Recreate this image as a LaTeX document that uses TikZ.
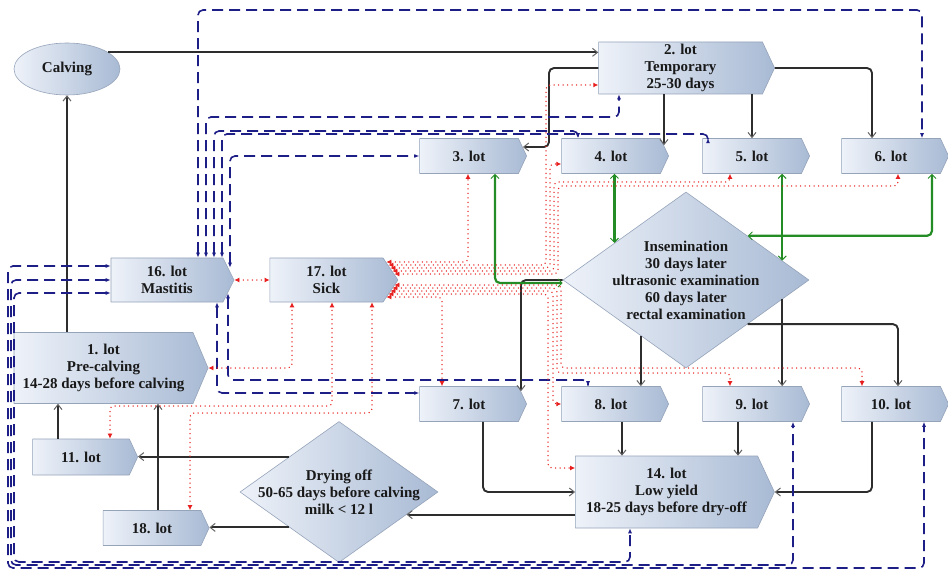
\documentclass[tikz,border=0pt]{standalone}
\usepackage{fontspec}
\setmainfont{Liberation Serif}
\usetikzlibrary{shapes.symbols,shapes.geometric,arrows.meta,calc}
\definecolor{lotlight}{RGB}{238,242,249}
\definecolor{lotdark}{RGB}{168,186,212}
\definecolor{lotedge}{RGB}{150,164,186}
\definecolor{navyline}{RGB}{30,30,135}
\definecolor{sickred}{RGB}{232,30,30}
\definecolor{insemgreen}{RGB}{36,140,36}
\definecolor{flowgray}{RGB}{45,45,45}
\definecolor{tipgray}{RGB}{100,100,100}
\begin{document}
\begin{tikzpicture}[x=1pt,y=-1pt,line join=round,
  font=\bfseries\fontsize{15}{17}\selectfont,
  shadebox/.style={draw=lotedge,line width=0.6pt,left color=lotlight,right color=lotdark,text=black!90,align=center,inner sep=0pt},
  lotbox/.style={shadebox,signal,signal to=east,signal from=nowhere,signal pointer angle=130,minimum width=107pt,minimum height=35pt},
  calvbox/.style={shadebox,ellipse,minimum width=106pt,minimum height=52pt},
  decide/.style={shadebox,diamond},
  flow/.style={draw=flowgray,line width=1.9pt,rounded corners=5pt,-{Straight Barb[length=5pt,width=8pt,line width=1pt,color=tipgray]}},
  insemline/.style={draw=insemgreen,line width=2.2pt,rounded corners=5pt,{Straight Barb[length=4pt,width=8pt,line width=1pt]}-{Straight Barb[length=4pt,width=8pt,line width=1pt]}},
  mastline/.style={draw=navyline,line width=1.6pt,dash pattern=on 11pt off 6pt,rounded corners=5pt,{Latex[length=5pt,width=4pt]}-{Latex[length=5pt,width=4pt]}},
  sickline/.style={draw=sickred,line width=1.5pt,line cap=round,dash pattern=on 0pt off 4.5pt,rounded corners=4pt,{Latex[length=5pt,width=5pt]}-{Latex[length=5pt,width=5pt]}}]
  \fill[white] (0,0) rectangle (948,572);
  \useasboundingbox (0,0) rectangle (948,572);
  \node[calvbox] (calv) at (67,69) {Calving};
  \node[lotbox,minimum width=176pt,minimum height=52pt] (l2) at (680.5,68) {2. lot\\Temporary\\25-30 days};
  \foreach \n/\x/\y in {3/469/156,4/611/156,5/752/156,6/891/156,7/469/404,8/611/404,9/752/404,10/891/404}
    \node[lotbox] (l\n) at (\x,\y) {\n. lot};
  \node[lotbox,minimum width=123pt,minimum height=44pt,signal pointer angle=127] (l16) at (167,280) {16. lot\\Mastitis};
  \node[lotbox,minimum width=128pt,minimum height=44pt,signal pointer angle=112] (l17) at (326.5,280) {17. lot\\Sick};
  \node[lotbox,minimum width=194pt,minimum height=71pt,signal pointer angle=134] (l1) at (103.5,368) {1. lot\\Pre-calving\\14-28 days before calving};
  \node[lotbox,minimum width=105pt,minimum height=36pt] (l11) at (81,457) {11. lot};
  \node[lotbox,minimum width=106pt] (l18) at (152,528) {18. lot};
  \node[lotbox,minimum width=199pt,minimum height=72pt] (l14) at (666.5,492) {14. lot\\Low yield\\18-25 days before dry-off};
  \node[decide,minimum width=246pt,minimum height=176pt] (insem) at (686,280) {};
  \node[align=center,text=black!90] (insemtext) at (insem) {Insemination\\30 days later\\ultrasonic examination\\60 days later\\rectal examination};
  \node[decide,minimum width=198pt,minimum height=141pt] (dry) at (339,492) {};
  \node[align=center,text=black!90] (drytext) at (dry) {Drying off\\50-65 days before calving\\milk < 12 l};
  \coordinate (i4) at ($(insem.west)!.42!(insem.north)$);
  \coordinate (i5) at ($(insem.north)!.78!(insem.east)$);
  \coordinate (i8) at ($(insem.west)!.634!(insem.south)$);
  \coordinate (i9) at ($(insem.south)!.78!(insem.east)$);
  \coordinate (d14) at ($(dry.east)!.32!(dry.south)$);
  \draw[flow] (calv.22) -- (calv.22 -| l2.west);
  \draw[flow] (calv.south |- l1.north) -- (calv.south);
  \draw[flow] (l2.west) -| (549,147) -- ([shift={(-4pt,9pt)}]l3.east);
  \draw[flow] (l2.south -| 664,0) -- ([xshift=53pt,yshift=-7pt]l4.north);
  \draw[flow] (l2.south -| l5.north) -- (l5.north);
  \draw[flow] (l2.east) -| ([xshift=-19pt]l6.north);
  \draw[flow] (insem.west) -| ([xshift=52pt,yshift=-5pt]l7.north);
  \draw[flow] (i8) -- (i8 |- l8.north);
  \draw[flow] (i9) -- (i9 |- l9.north);
  \draw[flow] (insem.south east) -| ([xshift=7pt]l10.north);
  \draw[flow] ([xshift=-19pt]l10.south) |- (l14.east);
  \draw[flow] ([xshift=-14pt]l9.south) -- ([xshift=-14pt]l9.south |- l14.north);
  \draw[flow] ([xshift=11pt]l8.south) -- ([xshift=11pt]l8.south |- l14.north);
  \draw[flow] ([xshift=14pt]l7.south) |- (l14.west);
  \draw[flow] (d14 -| l14.west) -- (d14);
  \draw[flow] (dry.north west) -- (dry.north west -| l11.east);
  \draw[flow] (dry.south west) -- (dry.south west -| l18.east);
  \draw[flow] ([xshift=-23pt]l11.north) -- ([xshift=-23pt]l11.north |- l1.south);
  \draw[flow] ([xshift=6pt]l18.north) -- ([xshift=6pt]l18.north |- l1.south);
  \draw[insemline] ([xshift=26pt]l3.south) |- ([yshift=-3pt]insem.west);
  \draw[insemline] (i4 |- l4.south) -- (i4);
  \draw[insemline] (i5 |- l5.south) -- (i5);
  \draw[insemline] ([xshift=41pt]l6.south) |- (insem.north east);
  \draw[mastline] ([xshift=31pt]l16.north) |- (922,10) -- ([xshift=31pt]l6.north);
  \draw[mastline] ([xshift=39pt]l16.north) |- (619,117) -- ([xshift=-61.5pt]l2.south);
  \draw[mastline] ([xshift=47pt]l16.north) |- (578,131) -- ([xshift=-33pt]l4.north);
  \draw[mastline] ([xshift=55pt]l16.north) |- (708,134) -- ([xshift=-44pt]l5.north);
  \draw[mastline] ([xshift=63pt,yshift=-10pt]l16.north) |- (l3.west);
  \draw[mastline] ([yshift=14pt]l16.west) -| (8,568) -| ([xshift=33pt]l10.south);
  \draw[mastline] (l16.west) -| (11,565) -| ([xshift=41pt]l9.south);
  \draw[mastline] ([yshift=-13pt]l16.west) -| (14,562) -| ([xshift=-36.5pt]l14.south);
  \draw[mastline] ([xshift=61pt,yshift=9pt]l16.south) |- (588,380) -- ([xshift=-23pt]l8.north);
  \draw[mastline] ([xshift=50pt]l16.south) |- ([yshift=11pt]l7.west);
  \draw[sickline] (l16.east) -- (l17.west);
  \draw[sickline] (l1.east) -| ([xshift=-34.5pt]l17.south);
  \draw[sickline] ([xshift=29pt]l11.north) |- (332,406) -- (332,0 |- l17.south);
  \draw[sickline] ([xshift=38pt]l18.north) |- (372,413) -- (372,0 |- l17.south);
  \draw[sickline] ([shift={(-12pt,18pt)}]l17.east) -| ([xshift=-1pt]l3.south);
  \draw[sickline] ([shift={(-10pt,15pt)}]l17.east) -| (546,85) -- ([yshift=-17pt]l2.west);
  \draw[sickline] ([shift={(-8pt,12pt)}]l17.east) -| (550,164) -- ([yshift=-8pt]l4.west);
  \draw[sickline] ([shift={(-6pt,9pt)}]l17.east) -| (554,182) -| ([xshift=-22pt]l5.south);
  \draw[sickline] ([shift={(-4pt,6pt)}]l17.east) -| (558,186) -| ([xshift=7pt]l6.south);
  \draw[sickline] ([shift={(-12pt,-17pt)}]l17.east) -| ([xshift=-27pt]l7.north);
  \draw[sickline] ([shift={(-10pt,-14pt)}]l17.east) -| (548,468) -- ([yshift=24pt]l14.west);
  \draw[sickline] ([shift={(-8pt,-11pt)}]l17.east) -| (553,404) -- (l8.west);
  \draw[sickline] ([shift={(-6pt,-8pt)}]l17.east) -| (557,373) -| ([xshift=-22pt]l9.north);
  \draw[sickline] ([shift={(-4pt,-5pt)}]l17.east) -| (561,368) -| ([xshift=-29pt]l10.north);
\end{tikzpicture}
\end{document}
